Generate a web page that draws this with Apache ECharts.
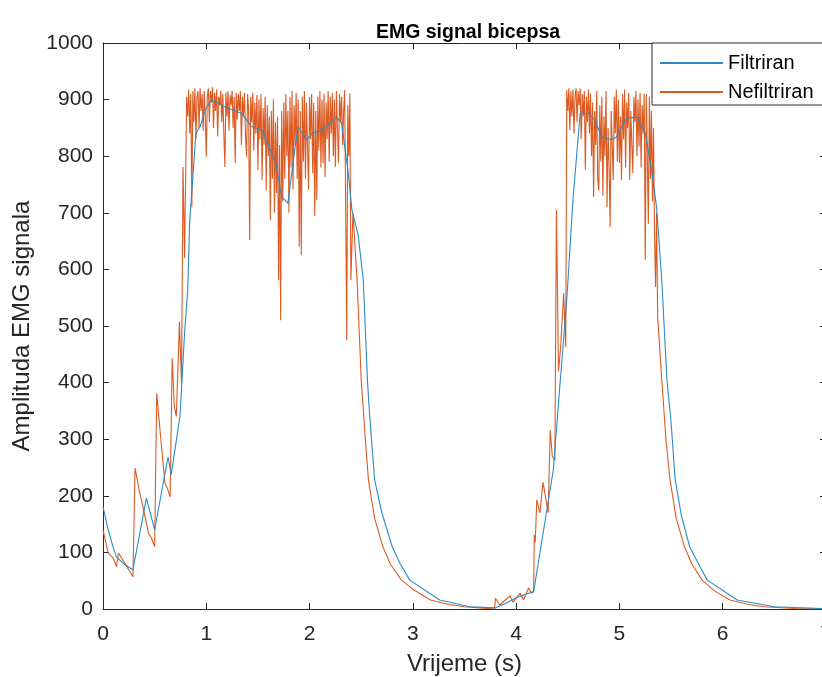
<!DOCTYPE html>
<html>
<head>
<meta charset="utf-8">
<title>EMG signal bicepsa</title>
<script src="https://cdn.jsdelivr.net/npm/echarts@6/dist/echarts.min.js"></script>
<style>
    html, body { margin: 0; padding: 0; background: #fff; overflow: hidden; }
    #emgChart { width: 822px; height: 677px; }
</style>
</head>
<body>
<div id="emgChart"></div>
<script>
    // filtrirani signal (plava linija)
    const filtTime = [0, 0.05, 0.1, 0.13, 0.2, 0.29, 0.42, 0.5, 0.63, 0.66, 0.745, 0.79, 0.82, 0.84, 0.9, 0.94, 0.99, 1.05, 1.12, 1.18, 1.34, 1.44, 1.54, 1.63, 1.67, 1.73, 1.79, 1.86, 1.89, 1.97, 2.03, 2.13, 2.26, 2.31, 2.375, 2.41, 2.47, 2.52, 2.56, 2.58, 2.63, 2.7, 2.8, 2.875, 2.97, 3.26, 3.55, 3.8, 3.9, 4.0, 4.17, 4.36, 4.42, 4.49, 4.52, 4.55, 4.62, 4.7, 4.76, 4.83, 4.92, 4.97, 5.07, 5.17, 5.25, 5.31, 5.36, 5.41, 5.46, 5.5, 5.54, 5.6, 5.68, 5.77, 5.85, 6.14, 6.5, 7.0];
    const filtAmp = [181, 140, 108, 92, 80, 69, 196, 140, 269, 237, 340, 488, 563, 687, 841, 852, 882, 899, 894, 887, 876, 852, 846, 806, 790, 728, 717, 816, 852, 829, 841, 846, 869, 859, 770, 705, 661, 581, 405, 346, 228, 170, 110, 81, 51, 16, 4, 2, 10, 20, 31, 246, 387, 546, 634, 723, 876, 876, 864, 834, 829, 834, 867, 869, 841, 776, 710, 581, 405, 330, 228, 165, 110, 78, 51, 16, 4, 0.5];

    // nefiltrirani signal (narancasta linija), po dijelovima
    const sampleStep = 0.01;
    const rawRiseTime = [0, 0.05, 0.1, 0.13, 0.15, 0.21, 0.29, 0.31, 0.33, 0.35, 0.4, 0.44, 0.47, 0.5, 0.52, 0.56, 0.6, 0.62, 0.65, 0.67, 0.69, 0.71, 0.74, 0.76, 0.775, 0.79];
    const rawRiseAmp = [140, 99, 90, 75, 99, 81, 57, 249, 230, 210, 170, 134, 125, 110, 381, 300, 222, 215, 198, 443, 360, 340, 508, 399, 781, 620];

    const plateau1Start = 0.81;
    const plateau1Amp = [
        905, 870, 918, 840, 910, 710, 915, 860, 920, 830,
        905, 915, 850, 920, 880, 910, 845, 915, 870, 799,
        905, 920, 860, 915, 895, 922, 850, 912, 880, 918,
        835, 905, 890, 915, 860, 910, 840, 781, 912, 870,
        915, 845, 908, 890, 916, 850, 905, 788, 912, 865,
        910, 880, 915, 820, 905, 870, 912, 835, 799, 910,
        880, 652, 905, 860, 912, 810, 895, 840, 908, 775,
        900, 830, 910, 758, 885, 820, 905, 740, 890, 800,
        870, 687, 880, 760, 900, 700, 860, 735, 870, 581,
        820, 510, 880, 720, 895, 760, 910, 800, 880, 700,
        905, 780, 915, 741, 890, 820, 912, 760, 900, 640,
        880, 625, 905, 790, 915, 760, 895, 820, 741, 905,
        830, 910, 770, 895, 694, 880, 722, 905, 810, 915,
        780, 900, 788, 910, 763, 895, 830, 915, 790, 905,
        840, 912, 800, 900, 781, 915, 850, 788, 910, 860,
        905, 820, 880, 917, 700, 475, 890, 800, 911, 581
    ];

    const rawDecay1Time = [2.42, 2.46, 2.5, 2.54, 2.57, 2.63, 2.71, 2.78, 2.89, 3.0, 3.17, 3.35, 3.5, 3.65, 3.79];
    const rawDecay1Amp = [700, 581, 405, 300, 228, 160, 110, 80, 51, 35, 16, 8, 4, 2, 0];

    const rawOnset2Time = [3.8, 3.84, 3.94, 3.97, 4.04, 4.07, 4.12, 4.15, 4.17, 4.175, 4.185, 4.2, 4.23, 4.26, 4.31, 4.33, 4.35, 4.375, 4.39, 4.41, 4.43, 4.46, 4.48];
    const rawOnset2Amp = [19, 7, 23, 12, 28, 16, 37, 28, 31, 131, 118, 193, 170, 224, 170, 316, 270, 263, 705, 420, 460, 558, 463];

    const plateau2Start = 4.49;
    const plateau2Amp = [
        917, 880, 920, 846, 915, 870, 918, 840, 905, 920,
        860, 915, 890, 920, 830, 910, 870, 915, 776, 905,
        860, 918, 840, 910, 800, 895, 728, 880, 820, 915,
        760, 740, 890, 790, 905, 730, 870, 800, 915, 710,
        850, 780, 675, 880, 820, 758, 905, 840, 918, 790,
        900, 788, 870, 758, 910, 830, 918, 780, 895, 850,
        912, 758, 880, 820, 770, 905, 860, 915, 800, 900,
        817, 912, 780, 890, 840, 910, 617, 910, 800, 680,
        905, 760, 880, 720, 850, 664, 569, 700, 516
    ];

    const rawDecay2Time = [5.41, 5.45, 5.49, 5.55, 5.63, 5.7, 5.8, 5.92, 6.07, 6.25, 6.4, 6.7, 7.0];
    const rawDecay2Amp = [405, 300, 228, 160, 110, 80, 51, 32, 16, 8, 4, 1, 0];

    const xTicks = [0, 7, 1];   // min, max, interval
    const yTicks = [0, 1000, 100];

    function pairs(times, amps) {
        return times.map((t, i) => [t, amps[i]]);
    }
    function sampled(start, amps) {
        return amps.map((v, i) => [+(start + i * sampleStep).toFixed(2), v]);
    }

    const filtData = pairs(filtTime, filtAmp);
    const rawData = [].concat(
        pairs(rawRiseTime, rawRiseAmp),
        sampled(plateau1Start, plateau1Amp),
        pairs(rawDecay1Time, rawDecay1Amp),
        pairs(rawOnset2Time, rawOnset2Amp),
        sampled(plateau2Start, plateau2Amp),
        pairs(rawDecay2Time, rawDecay2Amp)
    );

    const axisColor = '#262626';
    const fontFamily = '"Liberation Sans", Arial, sans-serif';

    let myChart = echarts.init(document.getElementById('emgChart'));
    myChart.setOption({
        animation: false,
        backgroundColor: '#fff',
        textStyle: { fontFamily: fontFamily },
        title: {
            text: 'EMG signal bicepsa',
            left: 463,
            top: 18,
            textAlign: 'center',
            textStyle: { fontSize: 19.5, fontWeight: 'bold', color: '#000', fontFamily: fontFamily }
        },
        legend: {
            orient: 'vertical',
            left: 652,
            top: 43,
            padding: [10, 12, 3, 7],
            itemGap: 9,
            itemWidth: 63,
            itemHeight: 14,
            borderColor: axisColor,
            borderWidth: 1,
            backgroundColor: '#fff',
            itemStyle: { opacity: 0, borderWidth: 0 },   // samo linija, bez kruzica
            textStyle: { fontSize: 20, color: '#000' },
            data: ['Filtriran', 'Nefiltriran']
        },
        // desni rub osi (x = 7) izlazi malo izvan slike, kao na originalu
        grid: { left: 103, width: 723, top: 43, bottom: 68, containLabel: false, outerBoundsMode: 'none' },
        xAxis: [{
            type: 'value',
            min: xTicks[0], max: xTicks[1], interval: xTicks[2],
            name: 'Vrijeme (s)',
            nameLocation: 'middle',
            nameGap: 43,
            nameTextStyle: { fontSize: 24, color: axisColor },
            axisLine: { onZero: false, lineStyle: { color: axisColor, width: 1 } },
            axisTick: { inside: true, length: 6, lineStyle: { color: axisColor } },
            axisLabel: { fontSize: 21, color: axisColor, margin: 15 },
            splitLine: { show: false }
        }, {
            type: 'value', position: 'top',
            min: xTicks[0], max: xTicks[1], interval: xTicks[2],
            axisLine: { show: true, onZero: false, lineStyle: { color: axisColor, width: 1 } },
            axisTick: { inside: true, length: 6, lineStyle: { color: axisColor } },
            axisLabel: { show: false },
            splitLine: { show: false }
        }],
        yAxis: [{
            type: 'value',
            min: yTicks[0], max: yTicks[1], interval: yTicks[2],
            name: 'Amplituda EMG signala',
            nameLocation: 'middle',
            nameGap: 69,
            nameTextStyle: { fontSize: 24, color: axisColor },
            axisLine: { show: true, onZero: false, lineStyle: { color: axisColor, width: 1 } },
            axisTick: { show: true, inside: true, length: 6, lineStyle: { color: axisColor } },
            axisLabel: { fontSize: 21, color: axisColor, margin: 10, formatter: (v) => String(v) },
            splitLine: { show: false }
        }, {
            type: 'value', position: 'right',
            min: yTicks[0], max: yTicks[1], interval: yTicks[2],
            axisLine: { show: true, onZero: false, lineStyle: { color: axisColor, width: 1 } },
            axisTick: { show: true, inside: true, length: 6, lineStyle: { color: axisColor } },
            axisLabel: { show: false },
            splitLine: { show: false }
        }],
        series: [{
            name: 'Filtriran',
            type: 'line',
            data: filtData,
            symbol: 'none',
            z: 3,
            lineStyle: { color: '#2a8bc8', width: 1.1 },
            itemStyle: { color: '#2a8bc8' }
        }, {
            name: 'Nefiltriran',
            type: 'line',
            data: rawData,
            symbol: 'none',
            z: 2,
            lineStyle: { color: '#dd5a22', width: 1.1 },
            itemStyle: { color: '#dd5a22' }
        }]
    });
</script>
</body>
</html>
